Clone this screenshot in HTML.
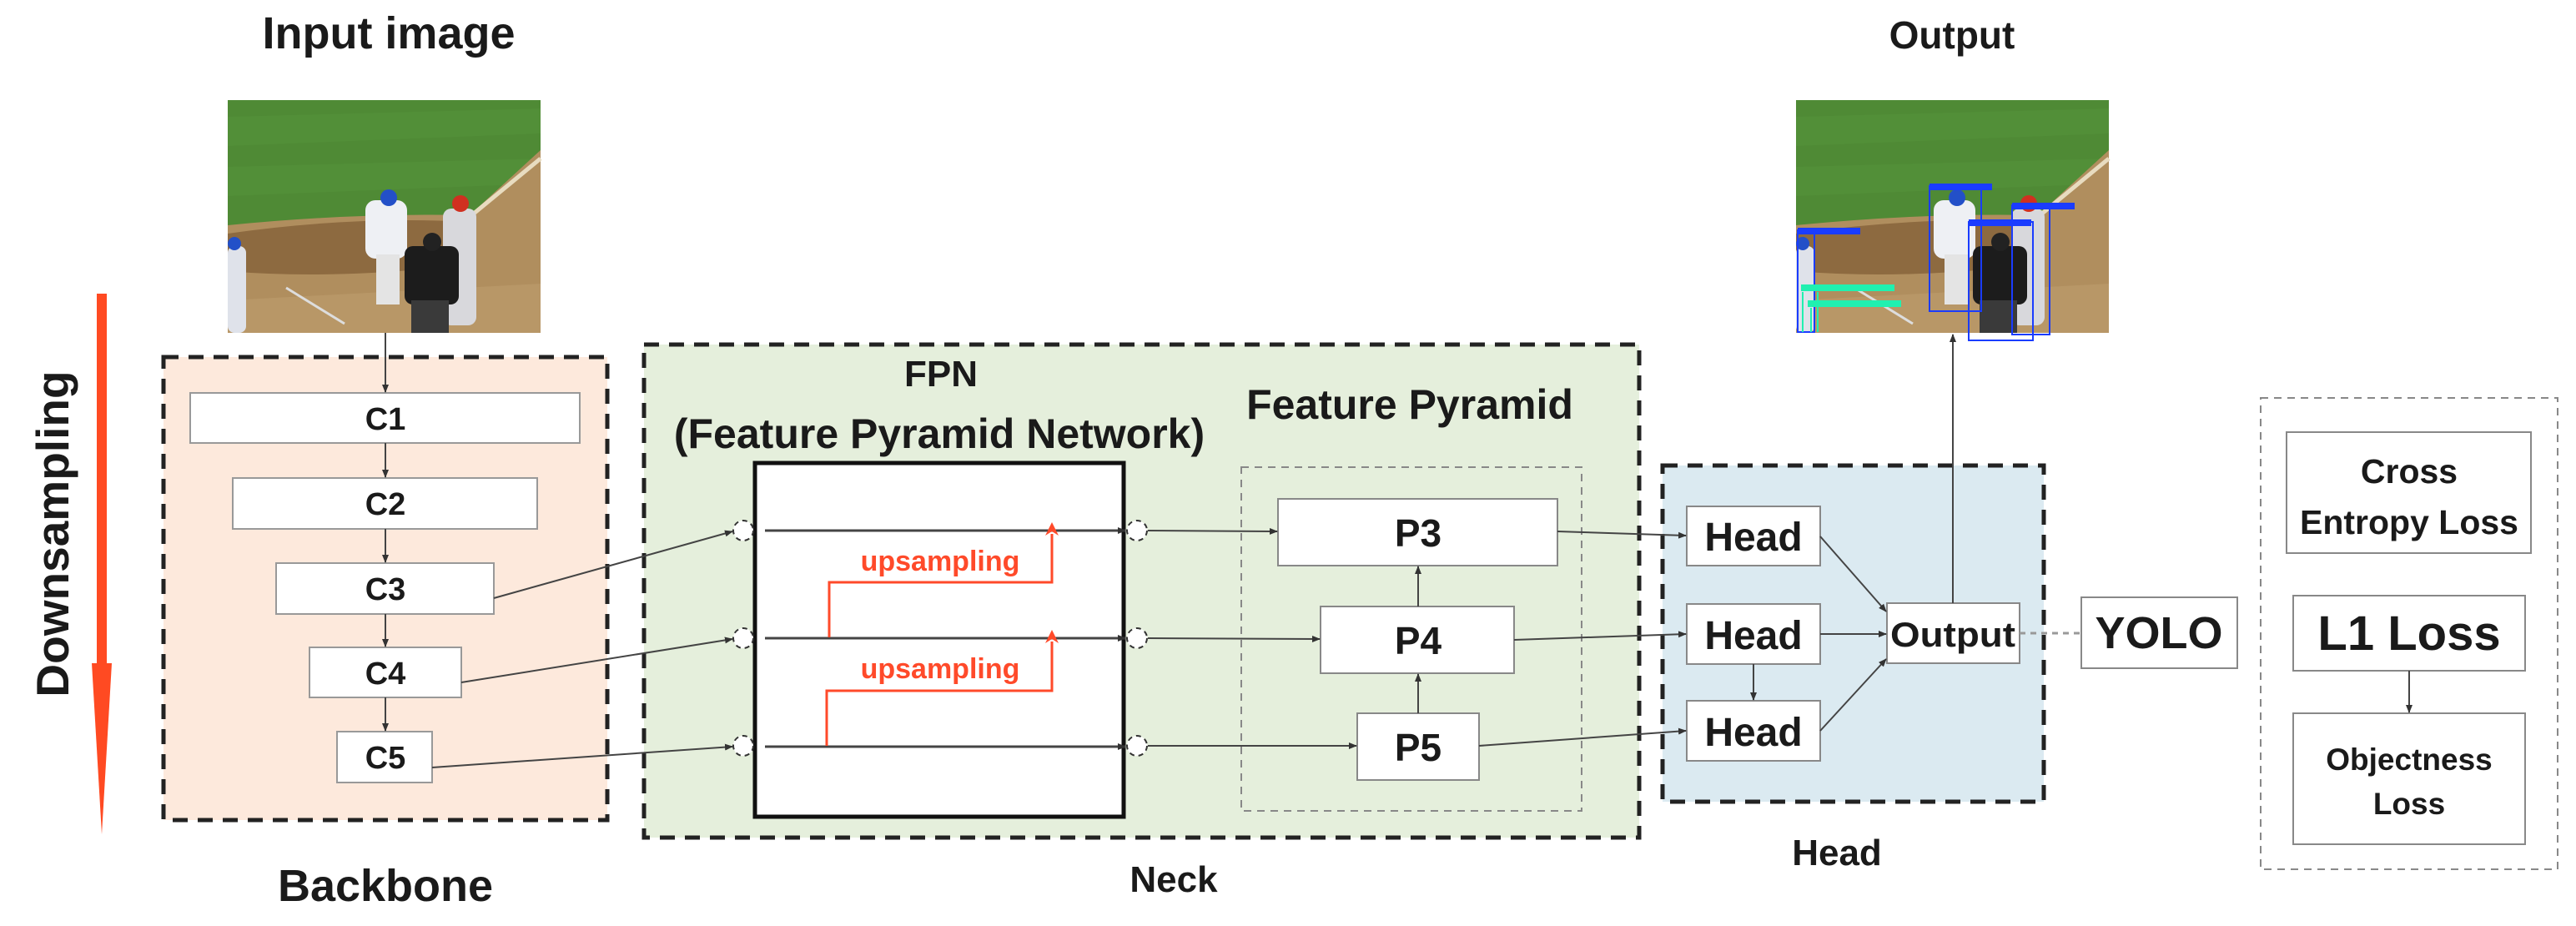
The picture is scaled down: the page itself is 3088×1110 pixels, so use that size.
<!DOCTYPE html>
<html><head><meta charset="utf-8"><style>
html,body{margin:0;padding:0;background:#fff;}
svg{display:block;}
text{font-family:"Liberation Sans",sans-serif;font-weight:bold;fill:#1a1a1a;}
</style></head><body>
<svg width="3088" height="1110" viewBox="0 0 3088 1110" xmlns="http://www.w3.org/2000/svg">
<defs>
<marker id="ah" markerWidth="10" markerHeight="10" refX="9" refY="5" orient="auto" markerUnits="userSpaceOnUse"><path d="M0,1 L10,5 L0,9 Z" fill="#333"/></marker>
<marker id="ahr" markerWidth="18" markerHeight="18" refX="9" refY="16" orient="0" markerUnits="userSpaceOnUse"><path d="M1,18 L9,2 L17,18 L9,13 Z" fill="#ff4a2a"/></marker>
<g id="photo">
<rect x="0" y="0" width="375" height="279" fill="#4f8a35"/>
<path d="M0,20 L375,10 L375,40 L0,55Z M0,80 L375,70 L375,100 L0,115Z" fill="#5a9840" opacity="0.35"/>
<path d="M0,150 Q150,135 290,138 L375,60 L375,279 L0,279Z" fill="#b08e5e"/>
<path d="M0,160 Q140,140 270,145 L260,200 Q120,215 0,205Z" fill="#8d6a40"/>
<path d="M0,240 L375,220 L375,279 L0,279Z" fill="#c0a070" opacity="0.5"/>
<path d="M70,225 L140,268" stroke="#ddd" stroke-width="3"/>
<path d="M290,140 L375,70" stroke="#e8dcc0" stroke-width="5"/>
<rect x="165" y="120" width="50" height="70" rx="12" fill="#eef0f4"/>
<circle cx="193" cy="117" r="10" fill="#2350c8"/>
<rect x="178" y="185" width="28" height="60" fill="#e4e4e4"/>
<rect x="258" y="130" width="40" height="140" rx="10" fill="#d8d8dc"/>
<circle cx="279" cy="124" r="10" fill="#d03020"/>
<rect x="212" y="175" width="65" height="70" rx="10" fill="#1c1c1c"/>
<circle cx="245" cy="170" r="11" fill="#222"/>
<rect x="220" y="240" width="45" height="39" fill="#3a3a3a"/>
<rect x="0" y="175" width="22" height="104" rx="8" fill="#dfe2ea"/>
<circle cx="8" cy="172" r="8" fill="#2350c8"/>
</g>
</defs>

<text x="466" y="58" font-size="54" text-anchor="middle">Input image</text>
<text x="2340" y="58" font-size="46" text-anchor="middle">Output</text>

<use href="#photo" x="273" y="120"/>
<g transform="translate(2153,120)">
<use href="#photo"/>
<g fill="none" stroke="#1a3cff" stroke-width="2">
<rect x="160" y="103" width="62" height="150"/>
<rect x="207" y="146" width="77" height="142"/>
<rect x="259" y="126" width="45" height="155"/>
<rect x="2" y="156" width="20" height="122"/>
</g>
<rect x="160" y="100" width="75" height="8" fill="#1a3cff"/>
<rect x="207" y="143" width="75" height="8" fill="#1a3cff"/>
<rect x="259" y="123" width="75" height="8" fill="#1a3cff"/>
<rect x="2" y="153" width="75" height="8" fill="#1a3cff"/>
<rect x="6" y="221" width="112" height="8" fill="#20f0b0"/>
<rect x="14" y="240" width="112" height="8" fill="#20f0b0"/>
<path d="M8,230 V278 M18,249 V278 M26,230 V278" stroke="#20f0b0" stroke-width="2"/>
</g>

<rect x="116" y="352" width="12" height="450" fill="#ff4a22"/>
<path d="M110,795 L134,795 L122,1000 Z" fill="#ff4a22"/>
<text transform="translate(82,640) rotate(-90)" font-size="55" text-anchor="middle">Downsampling</text>

<rect x="196" y="428" width="532" height="555" fill="#fde9dc" stroke="#222" stroke-width="5" stroke-dasharray="18,12"/>
<g fill="#fff" stroke="#999" stroke-width="2">
<rect x="228" y="471" width="467" height="60"/>
<rect x="279" y="573" width="365" height="61"/>
<rect x="331" y="675" width="261" height="61"/>
<rect x="371" y="776" width="182" height="60"/>
<rect x="404" y="877" width="114" height="61"/>
</g>
<g font-size="38" text-anchor="middle">
<text x="462" y="515">C1</text><text x="462" y="617">C2</text><text x="462" y="719">C3</text><text x="462" y="820">C4</text><text x="462" y="921">C5</text>
</g>
<g stroke="#444" stroke-width="2" marker-end="url(#ah)">
<line x1="462" y1="399" x2="462" y2="470"/>
<line x1="462" y1="531" x2="462" y2="572"/>
<line x1="462" y1="634" x2="462" y2="674"/>
<line x1="462" y1="736" x2="462" y2="775"/>
<line x1="462" y1="836" x2="462" y2="876"/>
</g>
<text x="462" y="1080" font-size="54" text-anchor="middle">Backbone</text>

<rect x="772" y="413" width="1193" height="591" fill="#e5efdc" stroke="#222" stroke-width="5" stroke-dasharray="18,12"/>
<text x="1128" y="463" font-size="44" text-anchor="middle">FPN</text>
<text x="1126" y="537" font-size="50" text-anchor="middle">(Feature Pyramid Network)</text>
<text x="1690" y="502" font-size="50" text-anchor="middle">Feature Pyramid</text>
<text x="1407" y="1069" font-size="44" text-anchor="middle">Neck</text>
<rect x="905" y="555" width="442" height="424" fill="#fff" stroke="#111" stroke-width="5"/>
<g fill="#fff" stroke="#333" stroke-width="2" stroke-dasharray="6,5">
<circle cx="891" cy="636" r="12"/><circle cx="891" cy="765" r="12"/><circle cx="891" cy="894" r="12"/>
<circle cx="1363" cy="636" r="12"/><circle cx="1363" cy="765" r="12"/><circle cx="1363" cy="894" r="12"/>
</g>
<g stroke="#444" stroke-width="3" marker-end="url(#ah)">
<line x1="917" y1="636" x2="1349" y2="636"/>
<line x1="917" y1="765" x2="1349" y2="765"/>
<line x1="917" y1="895" x2="1349" y2="895"/>
</g>
<g fill="none" stroke="#ff4a2a" stroke-width="3">
<path d="M994,764 V698 H1261 V640" marker-end="url(#ahr)"/>
<path d="M991,894 V828 H1261 V769" marker-end="url(#ahr)"/>
</g>
<text x="1127" y="684" font-size="34" text-anchor="middle" style="fill:#ff4a2a">upsampling</text>
<text x="1127" y="813" font-size="34" text-anchor="middle" style="fill:#ff4a2a">upsampling</text>
<g stroke="#444" stroke-width="2" marker-end="url(#ah)">
<line x1="592" y1="717" x2="878" y2="637"/>
<line x1="553" y1="818" x2="878" y2="766"/>
<line x1="518" y1="920" x2="878" y2="895"/>
</g>

<rect x="1488" y="560" width="408" height="412" fill="none" stroke="#888" stroke-width="2" stroke-dasharray="9,7"/>
<g fill="#fff" stroke="#888" stroke-width="2">
<rect x="1532" y="598" width="335" height="80"/>
<rect x="1583" y="727" width="232" height="80"/>
<rect x="1627" y="855" width="146" height="80"/>
</g>
<g font-size="46" text-anchor="middle">
<text x="1700" y="655">P3</text><text x="1700" y="784">P4</text><text x="1700" y="912">P5</text>
</g>
<g stroke="#444" stroke-width="2" marker-end="url(#ah)">
<line x1="1376" y1="636" x2="1531" y2="637"/>
<line x1="1376" y1="765" x2="1582" y2="766"/>
<line x1="1376" y1="894" x2="1626" y2="894"/>
<line x1="1700" y1="855" x2="1700" y2="808"/>
<line x1="1700" y1="727" x2="1700" y2="679"/>
</g>

<rect x="1993" y="558" width="457" height="403" fill="#dbeaf1" stroke="#222" stroke-width="5" stroke-dasharray="18,12"/>
<text x="2202" y="1037" font-size="44" text-anchor="middle">Head</text>
<g fill="#fff" stroke="#888" stroke-width="2">
<rect x="2022" y="607" width="160" height="71"/>
<rect x="2022" y="724" width="160" height="72"/>
<rect x="2022" y="840" width="160" height="72"/>
<rect x="2262" y="723" width="159" height="72"/>
</g>
<g font-size="48" text-anchor="middle">
<text x="2102" y="660">Head</text><text x="2102" y="778">Head</text><text x="2102" y="894">Head</text>
</g>
<text x="2341" y="775" font-size="42" text-anchor="middle" textLength="150" lengthAdjust="spacingAndGlyphs">Output</text>
<g stroke="#444" stroke-width="2" marker-end="url(#ah)">
<line x1="1867" y1="637" x2="2021" y2="642"/>
<line x1="1815" y1="767" x2="2021" y2="760"/>
<line x1="1773" y1="894" x2="2021" y2="876"/>
<line x1="2182" y1="643" x2="2261" y2="733"/>
<line x1="2182" y1="760" x2="2261" y2="760"/>
<line x1="2182" y1="876" x2="2261" y2="790"/>
<line x1="2102" y1="796" x2="2102" y2="839"/>
<line x1="2341" y1="723" x2="2341" y2="401"/>
</g>
<line x1="2421" y1="759" x2="2495" y2="759" stroke="#999" stroke-width="3" stroke-dasharray="7,6"/>
<rect x="2495" y="716" width="187" height="85" fill="#fff" stroke="#888" stroke-width="2"/>
<text x="2588" y="777" font-size="54" text-anchor="middle">YOLO</text>

<rect x="2710" y="477" width="356" height="565" fill="none" stroke="#888" stroke-width="2" stroke-dasharray="9,7"/>
<g fill="#fff" stroke="#888" stroke-width="2">
<rect x="2741" y="518" width="293" height="145"/>
<rect x="2749" y="714" width="278" height="90"/>
<rect x="2749" y="855" width="278" height="157"/>
</g>
<g text-anchor="middle">
<text x="2888" y="579" font-size="41">Cross</text>
<text x="2888" y="640" font-size="41">Entropy Loss</text>
<text x="2888" y="779" font-size="58">L1 Loss</text>
<text x="2888" y="923" font-size="37">Objectness</text>
<text x="2888" y="976" font-size="37">Loss</text>
</g>
<line x1="2888" y1="804" x2="2888" y2="854" stroke="#444" stroke-width="2" marker-end="url(#ah)"/>
</svg>
</body></html>
